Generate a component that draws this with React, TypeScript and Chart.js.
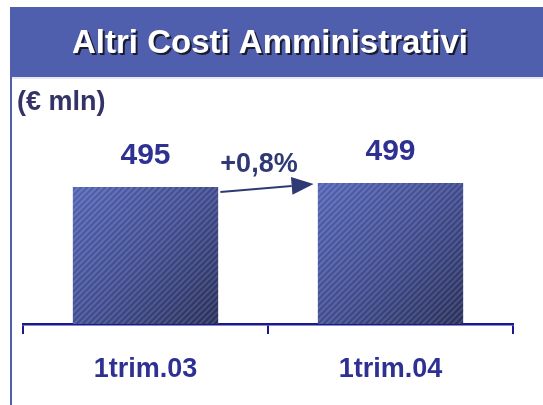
import React, { useEffect, useRef } from "react";
import { Chart, registerables } from "chart.js";

Chart.register(...registerables);

const TITLE = "Altri Costi Amministrativi";
const UNIT_LABEL = "(€ mln)";
const categories = ["1trim.03", "1trim.04"];
const values = [495, 499];
const Y_MIN = 358;
const Y_MAX = 572;

const FONT = "Arial, 'Liberation Sans', sans-serif";
const BLUE_TEXT = "#2e3192";
const DARK_TEXT = "#2f3a75";
const AXIS_COLOR = "#1a1a8c";
const TITLE_BG = "#4f5fae";

function pctLabel(a: number, b: number) {
  const p = ((b - a) / a) * 100;
  const s = (p >= 0 ? "+" : "") + p.toFixed(1).replace(".", ",") + "%";
  return s;
}

const decorPlugin = {
  id: "decor",
  beforeDraw(chart: any) {
    const ctx = chart.ctx;
    ctx.save();
    ctx.fillStyle = "#ffffff";
    ctx.fillRect(0, 0, chart.width, chart.height);
    // title bar
    ctx.fillStyle = TITLE_BG;
    ctx.fillRect(10, 7, chart.width - 10, 70);
    ctx.fillStyle = "#e6e8f2";
    ctx.fillRect(10, 77, chart.width - 10, 2);
    // left vertical line
    ctx.strokeStyle = TITLE_BG;
    ctx.lineWidth = 2;
    ctx.beginPath();
    ctx.moveTo(11, 77);
    ctx.lineTo(11, chart.height);
    ctx.stroke();
    // title text
    ctx.font = `bold 33px ${FONT}`;
    ctx.textAlign = "center";
    ctx.textBaseline = "alphabetic";
    ctx.fillStyle = "#1a1a30";
    ctx.fillText(TITLE, 272, 55);
    ctx.fillStyle = "#ffffff";
    ctx.fillText(TITLE, 270, 53);
    // unit label
    ctx.font = `bold 27px ${FONT}`;
    ctx.textAlign = "left";
    ctx.fillStyle = "#333366";
    ctx.fillText(UNIT_LABEL, 17, 110);
    ctx.restore();
  },
  beforeDatasetsDraw(chart: any) {
    const ctx = chart.ctx;
    const area = chart.chartArea;
    const meta = chart.getDatasetMeta(0);
    const bars = meta.data.map((el: any) => el.getProps(["x", "y", "base", "width"], true));
    ctx.save();
    bars.forEach((b: any, i: number) => {
      const left = b.x - b.width / 2;
      const top = b.y;
      const w = b.width;
      const bottom = Math.min(b.base, area.bottom);
      const h = bottom - top;
      const g = ctx.createLinearGradient(left, top, left + w, top + h);
      g.addColorStop(0, "#5767b8");
      g.addColorStop(0.5, "#434f93");
      g.addColorStop(1, "#2b325c");
      ctx.save();
      ctx.beginPath();
      ctx.rect(left, top, w, h);
      ctx.clip();
      ctx.fillStyle = g;
      ctx.fillRect(left, top, w, h);
      ctx.strokeStyle = "rgba(255,255,255,0.12)";
      ctx.lineWidth = 2;
      for (let k = -h; k < w + h; k += 6) {
        ctx.beginPath();
        ctx.moveTo(left + k, top + h);
        ctx.lineTo(left + k + h, top);
        ctx.stroke();
      }
      ctx.strokeStyle = "rgba(20,25,60,0.12)";
      ctx.lineWidth = 1;
      for (let k = -h + 3; k < w + h; k += 6) {
        ctx.beginPath();
        ctx.moveTo(left + k, top + h);
        ctx.lineTo(left + k + h, top);
        ctx.stroke();
      }
      ctx.restore();
      // value label
      ctx.font = `bold 30px ${FONT}`;
      ctx.textAlign = "center";
      ctx.textBaseline = "alphabetic";
      ctx.fillStyle = BLUE_TEXT;
      ctx.fillText(String(values[i]), b.x, top - 23);
    });
    // arrow between bars
    if (bars.length >= 2) {
      const a = bars[0];
      const c = bars[1];
      const x1 = a.x + a.width / 2 + 2;
      const y1 = a.y + 5;
      const x2 = c.x - c.width / 2 - 4;
      const y2 = c.y + 1;
      const ang = Math.atan2(y2 - y1, x2 - x1);
      const headLen = 22;
      const headW = 9;
      const bx = x2 - headLen * Math.cos(ang);
      const by = y2 - headLen * Math.sin(ang);
      ctx.strokeStyle = DARK_TEXT;
      ctx.fillStyle = DARK_TEXT;
      ctx.lineWidth = 2;
      ctx.beginPath();
      ctx.moveTo(x1, y1);
      ctx.lineTo(bx, by);
      ctx.stroke();
      ctx.beginPath();
      ctx.moveTo(x2, y2);
      ctx.lineTo(bx - headW * Math.sin(ang), by + headW * Math.cos(ang));
      ctx.lineTo(bx + headW * Math.sin(ang), by - headW * Math.cos(ang));
      ctx.closePath();
      ctx.fill();
      ctx.font = `bold 27px ${FONT}`;
      ctx.textAlign = "center";
      ctx.fillText(pctLabel(values[0], values[1]), (x1 + x2) / 2 - 8, Math.min(y1, y2) - 12);
    }
    ctx.restore();
    return false;
  },
};

export default function App() {
  const ref = useRef<HTMLCanvasElement | null>(null);
  useEffect(() => {
    if (!ref.current) return;
    const chart = new Chart(ref.current, {
      type: "bar",
      data: {
        labels: categories,
        datasets: [
          {
            data: values,
            backgroundColor: "#45529a",
            borderWidth: 0,
            barPercentage: 1,
            categoryPercentage: 0.595,
          },
        ],
      },
      options: {
        responsive: false,
        animation: false,
        devicePixelRatio: 1,
        layout: { padding: { left: 23, right: 30, top: 110, bottom: 0 } },
        plugins: {
          legend: { display: false },
          tooltip: { enabled: false },
          title: { display: false },
        },
        scales: {
          x: {
            afterFit: (scale: any) => {
              scale.height = 81;
            },
            grid: {
              display: true,
              drawOnChartArea: false,
              drawTicks: true,
              tickLength: 10,
              color: AXIS_COLOR,
              lineWidth: 2,
            },
            border: { display: true, color: AXIS_COLOR, width: 2.5 },
            ticks: {
              color: BLUE_TEXT,
              font: { family: FONT, size: 27, weight: "bold" },
              padding: 19,
              maxRotation: 0,
            },
          },
          y: {
            display: false,
            min: Y_MIN,
            max: Y_MAX,
          },
        },
      },
      plugins: [decorPlugin],
    } as any);
    return () => chart.destroy();
  }, []);
  return (
    <div style={{ position: "absolute", left: 0, top: 0, width: 543, height: 405 }}>
      <canvas ref={ref} width={543} height={405} />
    </div>
  );
}
